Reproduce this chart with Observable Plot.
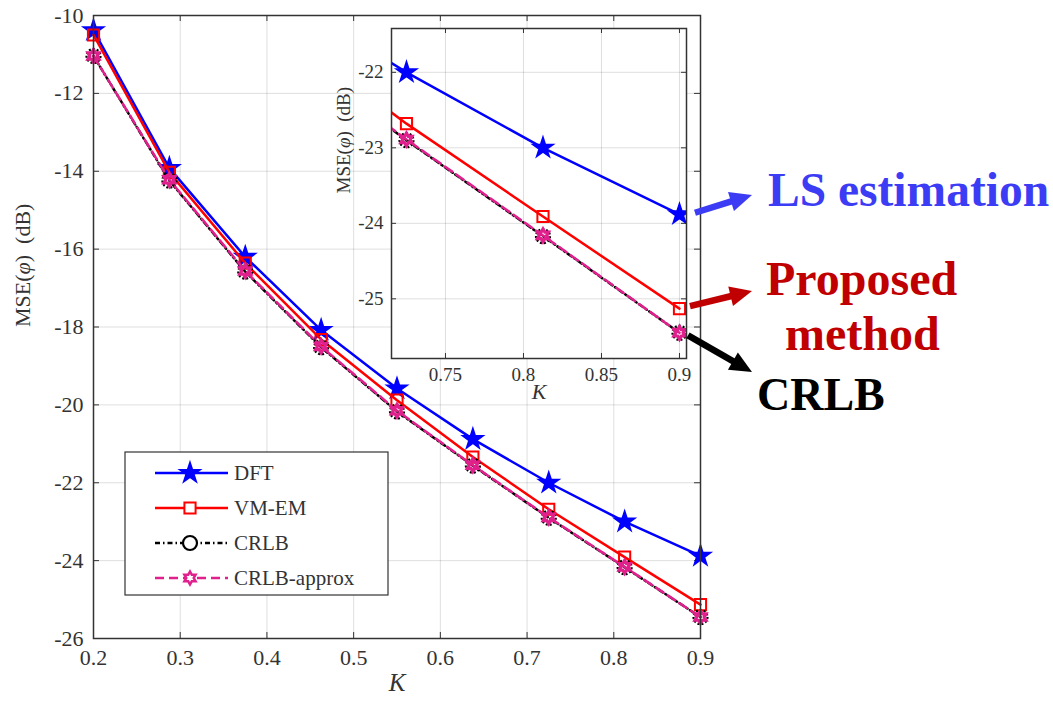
<!DOCTYPE html>
<html><head><meta charset="utf-8">
<script src="https://cdn.jsdelivr.net/npm/d3@7"></script>
<script src="https://cdn.jsdelivr.net/npm/@observablehq/plot@0.6"></script>
<style>
html,body{margin:0;padding:0;background:#fff;}
#wrap{position:relative;width:1053px;height:703px;overflow:hidden;background:#fff;}
#wrap > svg{position:absolute;}
</style></head><body><div id="wrap"></div>
<script>
// ---------- data ----------
const K = [0.2, 0.2875, 0.375, 0.4625, 0.55, 0.6375, 0.725, 0.8125, 0.9];
const dft = [-10.38, -13.92, -16.2, -18.08, -19.58, -20.88, -22.0, -23.0, -23.88];
const vmem = [-10.5, -14.03, -16.36, -18.32, -19.88, -21.34, -22.68, -23.91, -25.13];
const crlb = [-11.04, -14.24, -16.58, -18.52, -20.17, -21.56, -22.9, -24.17, -25.45];
const crlbApprox = [-11.04, -14.22, -16.56, -18.5, -20.15, -21.55, -22.89, -24.16, -25.45];
const seriesNames = ["DFT", "VM-EM", "CRLB", "CRLB-approx"];
const xTicks = [0.2, 0.3, 0.4, 0.5, 0.6, 0.7, 0.8, 0.9];
const yTicks = [-26, -24, -22, -20, -18, -16, -14, -12, -10];
const insetXTicks = [0.75, 0.8, 0.85, 0.9];
const insetYTicks = [-25, -24, -23, -22];
const yLabelParts = ["MSE(", "\u03C6", ")\u2002(dB)"];
const yLabel = yLabelParts.join("");
const xLabel = "K";
const notes = {ls: "LS estimation", prop1: "Proposed", prop2: "method", crlb: "CRLB"};

// ---------- styles ----------
const serif = '"Liberation Serif","Times New Roman",serif';
const hexagram = {draw(ctx, size) {
  const R = Math.sqrt(size / Math.PI) * 1.1, r = R / Math.sqrt(3);
  for (let i = 0; i < 12; i++) {
    const a = Math.PI / 2 + i * Math.PI / 6, rr = i % 2 ? r : R;
    const x = rr * Math.cos(a), y = -rr * Math.sin(a);
    i ? ctx.lineTo(x, y) : ctx.moveTo(x, y);
  }
  ctx.closePath();
}};
const styles = {
  "DFT": {color: "#0000ff", dash: null, symbol: "star", r: 6, fill: "#0000ff", mw: 2, mdash: null},
  "VM-EM": {color: "#ff0000", dash: null, symbol: "square", r: 6.3, fill: "none", mw: 2, mdash: null},
  "CRLB": {color: "#000000", dash: "5,3,1.5,3", symbol: "circle", r: 7, fill: "none", mw: 2.2, mdash: "2,2"},
  "CRLB-approx": {color: "#e0208c", dash: "9,5", symbol: hexagram, r: 5.8, fill: "none", mw: 3.2, mdash: null}
};
const LW = 2.5;
const valuesOf = {"DFT": dft, "VM-EM": vmem, "CRLB": crlb, "CRLB-approx": crlbApprox};
const table = seriesNames.map(name => ({name, rows: K.map((k, i) => ({K: k, v: valuesOf[name][i]}))}));

function seriesMarks(clip) {
  const marks = [];
  for (const s of table) {
    const st = styles[s.name];
    marks.push(Plot.line(s.rows, {x: "K", y: "v", stroke: st.color, strokeWidth: LW, strokeDasharray: st.dash, clip}));
    marks.push(Plot.dot(s.rows, {x: "K", y: "v", symbol: st.symbol, r: st.r, stroke: st.color, fill: st.fill, strokeWidth: st.mw, strokeDasharray: st.mdash, clip}));
  }
  return marks;
}
const grid = {stroke: "#000", strokeOpacity: 0.13, strokeWidth: 1};
const tickC = "#333";
function italicizePhi(svg) {
  svg.querySelectorAll("text").forEach(t => {
    if (t.textContent === yLabel) {
      t.textContent = "";
      yLabelParts.forEach((p, i) => {
        const ts = document.createElementNS("http://www.w3.org/2000/svg", "tspan");
        ts.textContent = p;
        if (i === 1) ts.setAttribute("font-style", "italic");
        t.appendChild(ts);
      });
    }
  });
}

// ---------- main chart ----------
const M = {w: 720, h: 703, l: 93, r: 20, t: 15, b: 65};
const pW = M.w - M.l - M.r, pH = M.h - M.t - M.b;
const main = Plot.plot({
  width: M.w, height: M.h, marginLeft: M.l, marginRight: M.r, marginTop: M.t, marginBottom: M.b,
  style: {fontFamily: serif, fontSize: "22px", color: "#333", background: "transparent", overflow: "visible"},
  x: {domain: [0.2, 0.9], axis: null, label: null},
  y: {domain: [-26, -10], axis: null, label: null},
  marks: [
    Plot.gridX(xTicks, grid),
    Plot.gridY(yTicks, grid),
    Plot.axisX(xTicks, {tickSize: 0, tickPadding: 11, tickFormat: d => d.toFixed(1), fontSize: 22, label: null, fill: "#333"}),
    Plot.axisY(yTicks, {tickSize: 0, tickPadding: 10, tickFormat: d => String(d), fontSize: 22, label: null, fill: "#333"}),
    Plot.tickX(xTicks, {x: d => d, insetTop: pH - 6, stroke: tickC}),
    Plot.tickX(xTicks, {x: d => d, insetBottom: pH - 6, stroke: tickC}),
    Plot.tickY(yTicks, {y: d => d, insetRight: pW - 6, stroke: tickC}),
    Plot.tickY(yTicks, {y: d => d, insetLeft: pW - 6, stroke: tickC}),
    ...seriesMarks(false),
    Plot.frame({stroke: "#333", strokeWidth: 1.5}),
    Plot.text([yLabel], {text: d => d, frameAnchor: "left", rotate: -90, dx: -71, fontSize: 22, fill: "#333"}),
    Plot.text([xLabel], {text: d => d, frameAnchor: "bottom", dy: 52, fontSize: 25, fontStyle: "italic", fill: "#333"})
  ]
});
italicizePhi(main);
main.style.left = "0px"; main.style.top = "0px";
document.getElementById("wrap").appendChild(main);

// ---------- legend ----------
const wrap = d3.select("#wrap");
const lg = wrap.append("svg").attr("width", 266).attr("height", 146)
  .style("left", "124px").style("top", "451px");
lg.append("rect").attr("x", 1).attr("y", 1).attr("width", 263).attr("height", 143)
  .attr("fill", "#fff").attr("stroke", "#333").attr("stroke-width", 1.2);
seriesNames.forEach((name, i) => {
  const st = styles[name], y = 22 + i * 35;
  lg.append("line").attr("x1", 31).attr("x2", 104).attr("y1", y).attr("y2", y)
    .attr("stroke", st.color).attr("stroke-width", LW).attr("stroke-dasharray", st.dash);
  const sym = typeof st.symbol === "string" ? {star: d3.symbolStar, square: d3.symbolSquare, circle: d3.symbolCircle}[st.symbol] : st.symbol;
  lg.append("path").attr("d", d3.symbol(sym, Math.PI * st.r * st.r)())
    .attr("transform", `translate(66,${y})`).attr("fill", st.fill === "none" ? "#fff" : st.fill)
    .attr("stroke", st.color).attr("stroke-width", Math.min(st.mw, 2.5));
  lg.append("text").attr("x", 110).attr("y", y).attr("dy", "0.35em").text(name)
    .attr("font-family", serif).attr("font-size", 21).attr("fill", "#333");
});

// ---------- inset ----------
const I = {x: 333, y: 20, w: 360, h: 390, l: 58, r: 7, t: 8, b: 52};
const iW = I.w - I.l - I.r, iH = I.h - I.t - I.b;
const inset = Plot.plot({
  width: I.w, height: I.h, marginLeft: I.l, marginRight: I.r, marginTop: I.t, marginBottom: I.b,
  style: {fontFamily: serif, fontSize: "19px", color: "#333", background: "transparent", overflow: "visible"},
  x: {domain: [0.7154, 0.9045], axis: null, label: null},
  y: {domain: [-25.79, -21.42], axis: null, label: null},
  marks: [
    Plot.frame({fill: "white"}),
    Plot.gridX(insetXTicks, grid),
    Plot.gridY(insetYTicks, grid),
    Plot.axisX(insetXTicks, {tickSize: 0, tickPadding: 9, tickFormat: d => String(d), fontSize: 19, label: null, fill: "#333"}),
    Plot.axisY(insetYTicks, {tickSize: 0, tickPadding: 8, tickFormat: d => String(d), fontSize: 19, label: null, fill: "#333"}),
    Plot.tickX(insetXTicks, {x: d => d, insetTop: iH - 5, stroke: tickC}),
    Plot.tickX(insetXTicks, {x: d => d, insetBottom: iH - 5, stroke: tickC}),
    Plot.tickY(insetYTicks, {y: d => d, insetRight: iW - 5, stroke: tickC}),
    Plot.tickY(insetYTicks, {y: d => d, insetLeft: iW - 5, stroke: tickC}),
    ...seriesMarks(true),
    Plot.frame({stroke: "#333", strokeWidth: 1.5}),
    Plot.text([yLabel], {text: d => d, frameAnchor: "left", rotate: -90, dx: -48, fontSize: 19, fill: "#333"}),
    Plot.text([xLabel], {text: d => d, frameAnchor: "bottom", dy: 40, fontSize: 22, fontStyle: "italic", fill: "#333"})
  ]
});
italicizePhi(inset);
inset.style.left = I.x + "px"; inset.style.top = I.y + "px";
document.getElementById("wrap").appendChild(inset);

// ---------- annotations ----------
const sx = inset.scale("x"), sy = inset.scale("y");
const ov = wrap.append("svg").attr("width", 1053).attr("height", 703).style("left", "0px").style("top", "0px").style("pointer-events", "none");
function arrow(x1, y1, x2, y2, color) {
  const len = Math.hypot(x2 - x1, y2 - y1), ux = (x2 - x1) / len, uy = (y2 - y1) / len;
  const hl = 22, hw = 10;
  const bx = x2 - ux * hl, by = y2 - uy * hl;
  ov.append("line").attr("x1", x1).attr("y1", y1).attr("x2", bx + ux * 2).attr("y2", by + uy * 2)
    .attr("stroke", color).attr("stroke-width", 6.5);
  ov.append("path").attr("d", `M${x2},${y2}L${bx - uy * hw},${by + ux * hw}L${bx + uy * hw},${by - ux * hw}Z`).attr("fill", color);
}
const px = v => I.x + sx.apply(v), py = v => I.y + sy.apply(v);
const blue = "#3c3cf5", red = "#c00000";
arrow(px(0.9) + 16, py(dft[8]) - 1, 752, 195, blue);
arrow(px(0.9) + 11, py(vmem[8]) - 2, 752, 291, red);
arrow(px(0.9) + 9, py(crlb[8]) + 3, 752, 372, "#000");
const txt = (s, x, y, c, fs) => ov.append("text").attr("x", x).attr("y", y).text(s)
  .attr("font-family", serif).attr("font-weight", "bold").attr("font-size", fs).attr("fill", c);
txt(notes.ls, 768, 206, blue, 47.5);
txt(notes.prop1, 766, 295, red, 48);
txt(notes.prop2, 785, 350, red, 48);
txt(notes.crlb, 757, 410, "#000", 46);
</script></body></html>
